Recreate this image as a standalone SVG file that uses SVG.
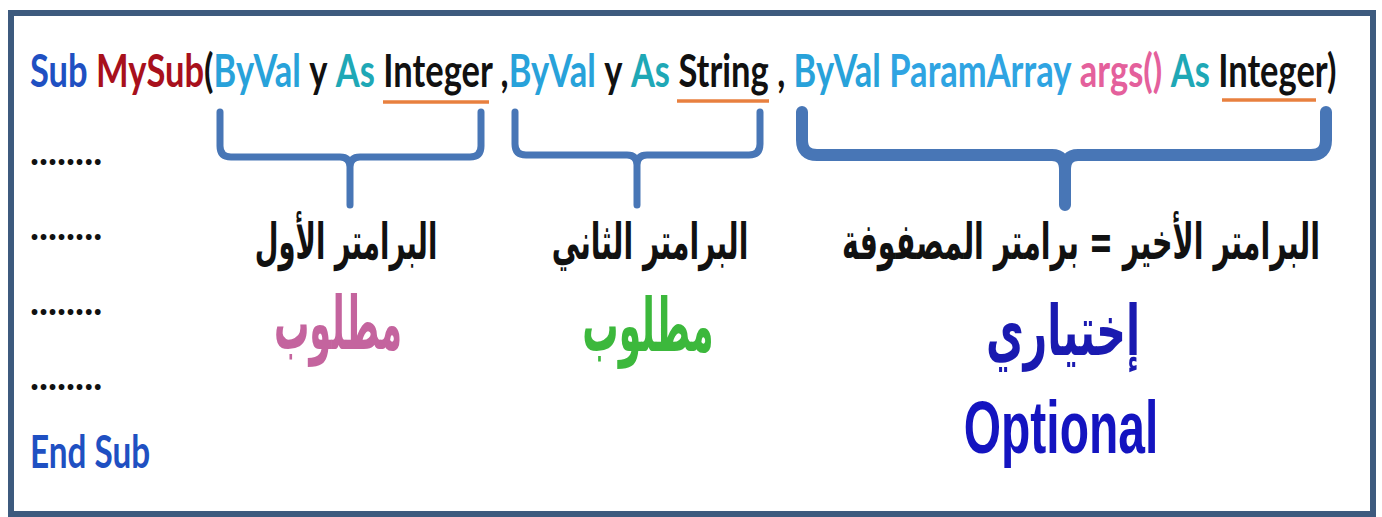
<svg xmlns="http://www.w3.org/2000/svg" width="1382" height="517" viewBox="0 0 1382 517">
<style>
.code{font-family:Lato,"Open Sans","Liberation Sans",sans-serif;font-weight:700;font-size:45px}
.k{fill:#1f50c2}.n{fill:#a8101c}.b{fill:#111}.bv{fill:#28a2da}.as{fill:#1fa8b6}.pa{fill:#2fa4e2}.ar{fill:#e4609c}
.dots{font-family:Lato,"Liberation Sans",sans-serif;font-weight:700;font-size:40px;fill:#111}
.lab{font-family:"DejaVu Sans",sans-serif;font-weight:700;fill:#111;text-anchor:middle;font-size:50px}
.big{font-family:"DejaVu Sans",sans-serif;font-weight:700;text-anchor:middle}
.brace{fill:none;stroke:#4876b6;stroke-linecap:round;stroke-linejoin:round}
.ul{stroke:#e8803f;stroke-width:3.5}
</style>
<rect x="0" y="0" width="1382" height="517" fill="#ffffff"/>
<rect id="frame" x="11" y="13" width="1362" height="501" fill="#ffffff" stroke="#3d5a7e" stroke-width="6"/>

<g id="code-line" transform="translate(30,87) scale(0.767,1)">
<text class="code" x="0" y="0"><tspan class="k">Sub</tspan> <tspan class="n">MySub</tspan><tspan class="b">(</tspan><tspan class="bv">ByVal</tspan> <tspan class="b">y</tspan> <tspan class="as">As</tspan> <tspan class="b">Integer ,</tspan><tspan class="bv">ByVal</tspan> <tspan class="b">y</tspan> <tspan class="as">As</tspan> <tspan class="b">String ,</tspan> <tspan class="bv">ByVal</tspan> <tspan class="pa">ParamArray</tspan> <tspan class="ar">args()</tspan> <tspan class="as">As</tspan> <tspan class="b">Integer)</tspan></text>
</g>

<g id="underlines">
<line class="ul" x1="383" y1="102" x2="489" y2="102"/>
<line class="ul" x1="677" y1="101" x2="769" y2="101"/>
<line class="ul" x1="1222" y1="100" x2="1316" y2="100"/>
</g>

<g id="body-lines">
<text class="dots" transform="translate(30,165) scale(0.95,1)">........</text>
<text class="dots" transform="translate(30,240) scale(0.95,1)">........</text>
<text class="dots" transform="translate(30,315) scale(0.95,1)">........</text>
<text class="dots" transform="translate(30,390) scale(0.95,1)">........</text>
<text class="code k" transform="translate(30,468) scale(0.74,1)">End Sub</text>
</g>

<g id="connectors">
<path class="brace" stroke-width="7" d="M220,112 V146 Q220,157 231,157 H340 Q350,157 350,167 V205 M350,167 Q350,157 360,157 H470 Q481,157 481,146 V112"/>
<path class="brace" stroke-width="7" d="M515,112 V144 Q515,155 526,155 H627 Q637,155 637,165 V205 M637,165 Q637,155 647,155 H749 Q760,155 760,144 V112"/>
<path class="brace" stroke-width="12" d="M802,112 V140 Q802,155 817,155 H1052 Q1065,155 1065,170 V205 M1065,170 Q1065,155 1078,155 H1311 Q1326,155 1326,140 V112"/>
</g>

<g id="param1">
<text class="lab" transform="translate(346,259) scale(0.548,1)">البرامتر الأول</text>
<text class="big" transform="translate(338,349) scale(0.477,1)" font-size="74" fill="#c4649e">مطلوب</text>
</g>
<g id="param2">
<text class="lab" transform="translate(650,259) scale(0.564,1)">البرامتر الثاني</text>
<text class="big" transform="translate(648,351) scale(0.489,1)" font-size="74" fill="#3cb83c">مطلوب</text>
</g>
<g id="param3">
<text class="lab" transform="translate(1081,259) scale(0.57,1)">البرامتر الأخير = برامتر المصفوفة</text>
<text class="big" transform="translate(1063,355) scale(0.588,1)" font-size="70" fill="#1a1ab0">إختياري</text>
<text transform="translate(1061,453) scale(0.648,1)" font-family="'Liberation Sans',Arial,sans-serif" font-weight="700" font-size="74" fill="#1414c0" text-anchor="middle">Optional</text>
</g>
</svg>
